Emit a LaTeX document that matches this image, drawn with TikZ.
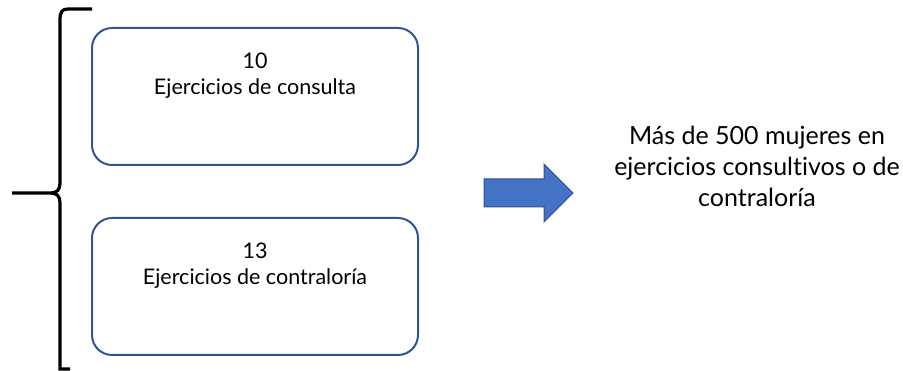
\documentclass[tikz,border=0pt]{standalone}
\usepackage{fontspec}
\setmainfont[Ligatures={NoCommon}]{Lato}
\definecolor{boxblue}{HTML}{2F5597}
\definecolor{arrowfill}{HTML}{4472C4}
\definecolor{arrowline}{HTML}{2F528F}
\begin{document}
\begin{tikzpicture}[x=1pt, y=-1pt,
    ejbox/.style={draw=boxblue, line width=2pt, rounded corners=20pt, minimum width=326pt, minimum height=137pt, inner sep=0pt},
    ejtext/.style={anchor=north, align=center, font=\fontsize{21.5}{25.5}\selectfont, inner sep=0pt},
    resumen/.style={align=center, font=\fontsize{25}{31}\selectfont, inner sep=0pt}]
    \useasboundingbox (0,0) rectangle (903,371);

    \node[ejbox] (consulta) at (255,96.5) {};
    \node[ejbox] (contraloria) at (255,286.5) {};
    \node[ejtext] (consultatxt) at ([yshift=-26pt]consulta.north) {10\\Ejercicios de consulta};
    \node[ejtext] (contraloriatxt) at ([yshift=-26pt]contraloria.north) {13\\Ejercicios de contraloría};

    \draw[line width=3.2pt] (92,9) -- (68,9) .. controls (62,9) and (60,12) .. (60,20)
        -- (60,183) .. controls (60,190) and (57,193) .. (50,193) -- (12,193)
        (50,193) .. controls (57,193) and (60,196) .. (60,203) -- (60,369) -- (70,369);

    \draw[fill=arrowfill, draw=arrowline, line width=1pt]
        (484,179) -- (544,179) -- (544,164) -- (573,193) -- (544,222) -- (544,207) -- (484,207) -- cycle;

    \node[resumen] (mujeres) at (757,166) {Más de 500 mujeres en\\ejercicios consultivos o de\\contraloría};
\end{tikzpicture}
\end{document}
